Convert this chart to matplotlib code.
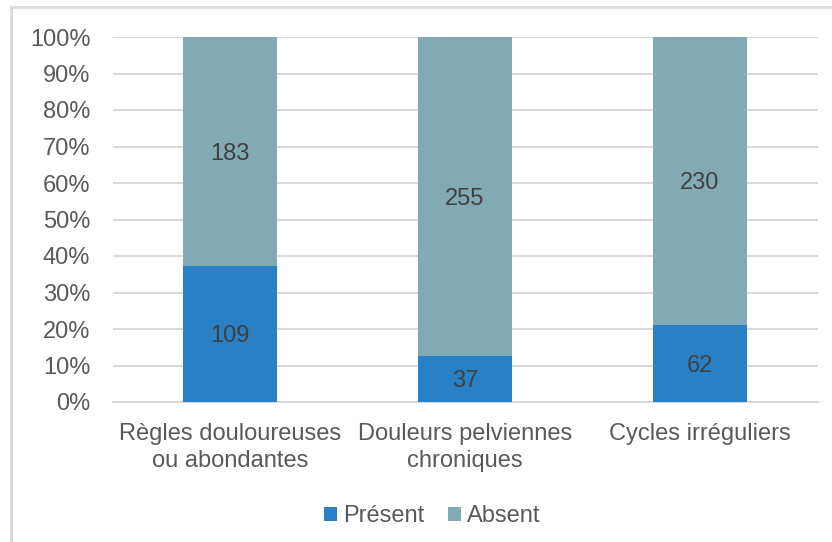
import matplotlib
matplotlib.use("Agg")
import matplotlib.pyplot as plt
from matplotlib.lines import Line2D
import numpy as np

categories = ["Règles douloureuses\nou abondantes", "Douleurs pelviennes\nchroniques", "Cycles irréguliers"]
present = [109, 37, 62]
absent = [183, 255, 230]
series_names = ["Présent", "Absent"]
yticks = [0, 10, 20, 30, 40, 50, 60, 70, 80, 90, 100]

c_present = "#2980c4"
c_absent = "#82aab5"
txt = "#595959"
fs = 17

plt.rcParams['font.family'] = ['Liberation Sans', 'DejaVu Sans']

fig = plt.figure(figsize=(8.32, 5.42), dpi=100)
ax = fig.add_axes([112.5/832, 1-402/542, 705/832, 365/542])

x = np.arange(len(categories))
p = np.array(present, float)
a = np.array(absent, float)
tot = p + a
pp = p / tot * 100
ap = a / tot * 100

ax.bar(x, pp, width=0.4, color=c_present, label=series_names[0], zorder=3)
ax.bar(x, ap, width=0.4, bottom=pp, color=c_absent, label=series_names[1], zorder=3)

for i in range(len(x)):
    ax.text(x[i], pp[i]/2, str(present[i]), ha='center', va='center_baseline', fontsize=fs, color="#404040", zorder=4)
    ax.text(x[i], pp[i] + ap[i]/2, str(absent[i]), ha='center', va='center_baseline', fontsize=fs, color="#404040", zorder=4)

ax.set_xlim(-0.5, len(x) - 0.5)
ax.set_ylim(0, 100)
ax.set_yticks(yticks)
ax.set_yticklabels([f"{t}%" for t in yticks], fontsize=fs, color=txt)
ax.set_xticks(x)
ax.set_xticklabels(categories, fontsize=fs, color=txt, linespacing=1.3)
ax.tick_params(axis='both', length=0)
ax.tick_params(axis='y', pad=16)
ax.tick_params(axis='x', pad=15)
ax.yaxis.grid(True, color="#d9d9d9", linewidth=1.5, zorder=0)
ax.set_axisbelow(True)
for s in ['left', 'right', 'top']:
    ax.spines[s].set_visible(False)
ax.spines['bottom'].set_color("#d9d9d9")
ax.spines['bottom'].set_linewidth(1.5)

leg = fig.legend(loc='center', bbox_to_anchor=(432/832, 1-516/542), ncol=2, frameon=False,
                 fontsize=fs, handlelength=0.55, handleheight=0.55, handletextpad=0.25,
                 columnspacing=1.0)
for t in leg.get_texts():
    t.set_color(txt)

fig.add_artist(Line2D([11/832, 1], [1-7/542, 1-7/542], color="#d9d9d9", linewidth=2, transform=fig.transFigure))
fig.add_artist(Line2D([11/832, 11/832], [0, 1-7/542], color="#d9d9d9", linewidth=2, transform=fig.transFigure))

fig.savefig("out.png", dpi=100)
